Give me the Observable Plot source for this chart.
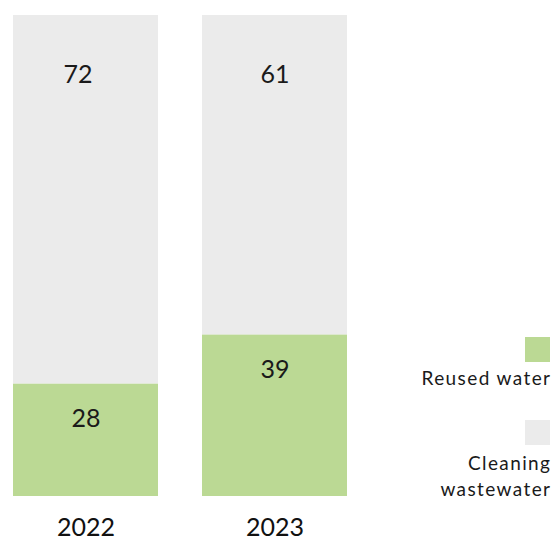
<!DOCTYPE html>
<html><head><meta charset="utf-8">
<script src="https://cdn.jsdelivr.net/npm/d3@7"></script>
<script src="https://cdn.jsdelivr.net/npm/@observablehq/plot@0.6"></script>
<style>
body{margin:0;background:#fff;font-family:Lato,sans-serif;}
#wrap{position:relative;width:553px;height:540px;}
.lg{position:absolute;right:1.6px;text-align:right;font-size:19px;letter-spacing:1.4px;color:#1a1a1a;line-height:26px;white-space:pre;}
.sw{position:absolute;right:3px;width:25px;height:25px;}
</style></head><body><div id="wrap"></div>
<script>
const years = ["2022", "2023"];
const series = ["Reused water", "Cleaning wastewater"];
const reusedLabels = [28, 39];
const cleaningLabels = [72, 61];
// bar heights as drawn in the picture (share of the full bar)
const reusedShare = [23.4, 33.6];
const cleaningShare = [76.6, 66.4];
const colors = ["#bbd994", "#ebebeb"];
const legendLabels = ["Reused water", "Cleaning\nwastewater"];

const rows = years.flatMap((y, i) => [
  {year: y, series: series[0], value: reusedShare[i], label: reusedLabels[i], top: reusedShare[i]},
  {year: y, series: series[1], value: cleaningShare[i], label: cleaningLabels[i], top: reusedShare[i] + cleaningShare[i]}
]);
const grey = rows.filter(d => d.series === series[1]);
const green = rows.filter(d => d.series === series[0]);

const chart = Plot.plot({
  width: 553, height: 540,
  marginLeft: 13, marginRight: 206, marginTop: 15, marginBottom: 44,
  style: {fontFamily: "Lato, sans-serif", background: "transparent", color: "#111"},
  x: {domain: years, paddingInner: 0.233, paddingOuter: 0, label: null},
  y: {domain: [0, 100], axis: null},
  color: {domain: series, range: colors},
  marks: [
    Plot.barY(rows, {x: "year", y: "value", fill: "series", order: series}),
    Plot.text(grey.filter(d => d.year === years[0]), {x: "year", y: "top", text: "label", dy: 59, dx: -8, fontSize: 25, fill: "#1a1a1a"}),
    Plot.text(grey.filter(d => d.year !== years[0]), {x: "year", y: "top", text: "label", dy: 59, fontSize: 25, fill: "#1a1a1a"}),
    Plot.text(green, {x: "year", y: "top", text: "label", dy: 35, fontSize: 25, fill: "#1a1a1a"}),
    Plot.axisX({tickSize: 0, tickPadding: 22, fontSize: 25, label: null, fill: "#111"})
  ]
});
const wrap = document.getElementById("wrap");
wrap.appendChild(chart);

const swTops = [337, 420];
const lgTops = [365, 450];
series.forEach((s, i) => {
  const sw = document.createElement("div");
  sw.className = "sw"; sw.style.top = swTops[i] + "px"; sw.style.background = colors[i];
  wrap.appendChild(sw);
  const lg = document.createElement("div");
  lg.className = "lg"; lg.style.top = lgTops[i] + "px"; lg.textContent = legendLabels[i];
  wrap.appendChild(lg);
});
</script></body></html>
